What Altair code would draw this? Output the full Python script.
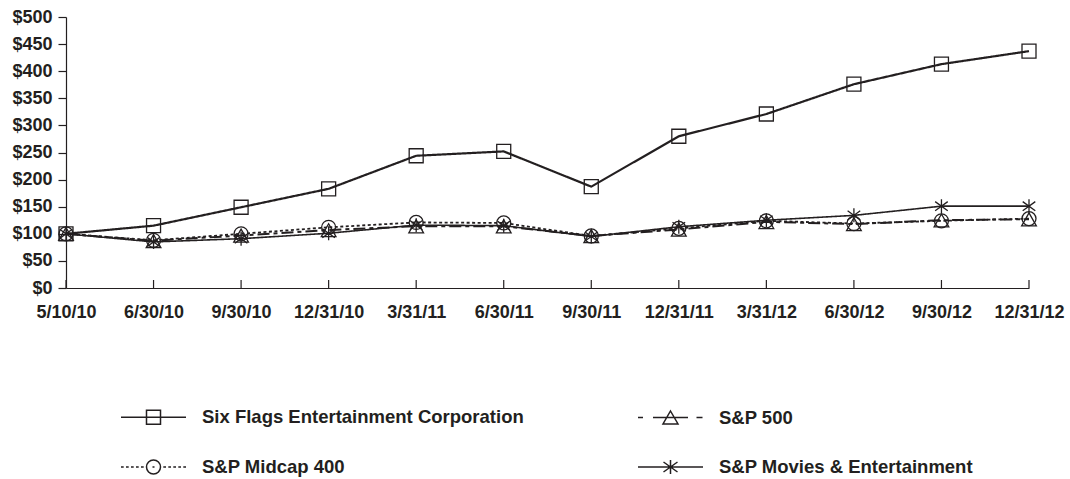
import altair as alt
import pandas as pd

# ---- data ----
dates = ["5/10/10", "6/30/10", "9/30/10", "12/31/10", "3/31/11", "6/30/11",
         "9/30/11", "12/31/11", "3/31/12", "6/30/12", "9/30/12", "12/31/12"]
series_names = ["Six Flags Entertainment Corporation", "S&P 500",
                "S&P Midcap 400", "S&P Movies & Entertainment"]
six_flags = [100, 115, 149, 183, 244, 252, 187, 280, 321, 376, 413, 437]
sp500 = [100, 87, 97, 107, 114, 114, 96, 108, 122, 118, 125, 127]
midcap = [100, 88, 100, 112, 121, 120, 96, 110, 124, 119, 124, 128]
movies = [100, 85, 91, 101, 116, 115, 95, 113, 125, 134, 151, 151]
y_ticks = [0, 50, 100, 150, 200, 250, 300, 350, 400, 450, 500]

rows = []
for name, vals in zip(series_names, [six_flags, sp500, midcap, movies]):
    for d, v in zip(dates, vals):
        rows.append({"date": d, "series": name, "value": v})
df = pd.DataFrame(rows)
tick_df = pd.DataFrame({"date": dates})

INK = "#231f20"
FONT = "Liberation Sans"

# ---- marker shapes (unit paths) ----
m_square = "M-1,-1H1V1H-1Z"
m_tri = "M0,-0.9L1.05,0.95H-1.05Z"
m_circle = "M1,0A1,1 0 1,1 -1,0A1,1 0 1,1 1,0Z"
m_star = "M0,-1V1M-0.9,-0.65L0.9,0.65M-0.9,0.65L0.9,-0.65"

# ---- legend symbols (line + marker), built in pixel units, scaled to unit box ----
S = 32.5
def u(v):
    return f"{v / S:.4f}"

def seg(a, b):
    return f"M{u(a)},0H{u(b)}"

lg_six = seg(-32.5, 32.5) + f"M{u(-7)},{u(-7)}H{u(7)}V{u(7)}H{u(-7)}Z"
lg_sp = (seg(-32.5, -27.5) + seg(-17.5, 17.5) + seg(26, 32)
         + f"M0,{u(-6.5)}L{u(7.5)},{u(6.5)}H{u(-7.5)}Z")
dots = ""
for start in [-32.5, -27.5, -22.5, -17.5, -12.5]:
    dots += seg(start, start + 2.7)
for start in [9.8, 14.8, 19.8, 24.8, 29.8]:
    dots += seg(start, start + 2.7)
lg_mid = (dots + seg(-1, 1)
          + f"M{u(7)},0A{u(7)},{u(7)} 0 1,1 {u(-7)},0A{u(7)},{u(7)} 0 1,1 {u(7)},0Z")
lg_mov = (seg(-32.5, 32.5) + f"M0,{u(-7)}V{u(7)}"
          + f"M{u(-7)},{u(-5)}L{u(7)},{u(5)}M{u(-7)},{u(5)}L{u(7)},{u(-5)}")

W, H = 963, 271

x_enc = alt.X("date:O", sort=dates,
              scale=alt.Scale(type="point", padding=0),
              axis=alt.Axis(title=None, ticks=False, labelAngle=0, labelAlign="center",
                            labelPadding=15, domainColor=INK, domainWidth=1.2))
y_enc = alt.Y("value:Q", scale=alt.Scale(domain=[0, 500], nice=False),
              axis=alt.Axis(title=None, values=y_ticks, grid=False, tickSize=8,
                            labelPadding=6, tickColor=INK, tickWidth=1.2,
                            domainColor=INK, domainWidth=1.2,
                            labelExpr="'$' + datum.value"))

base = alt.Chart(df)

lines = base.mark_line(color=INK).encode(
    x=x_enc, y=y_enc,
    detail="series:N",
    strokeDash=alt.StrokeDash("series:N", legend=None,
                              scale=alt.Scale(domain=series_names,
                                              range=[[1, 0], [12, 4, 4, 4], [3, 2.5], [1, 0]])),
    strokeWidth=alt.StrokeWidth("series:N", legend=None,
                                scale=alt.Scale(domain=series_names,
                                                range=[2.2, 1.6, 1.6, 1.6])),
)

points = base.mark_point(color=INK, filled=False, opacity=1, strokeWidth=1.3, size=196).encode(
    x=x_enc, y=y_enc,
    shape=alt.Shape("series:N", legend=None,
                    scale=alt.Scale(domain=series_names,
                                    range=[m_square, m_tri, m_circle, m_star])),
)

legend_layer = base.transform_filter("false").mark_point(
    color=INK, filled=False, opacity=1, strokeWidth=1.5
).encode(
    x=x_enc, y=y_enc,
    shape=alt.Shape("series:N",
                    scale=alt.Scale(domain=series_names,
                                    range=[lg_six, lg_sp, lg_mid, lg_mov]),
                    legend=alt.Legend(title=None, orient="none", direction="horizontal",
                                      legendX=54, legendY=366.5,
                                      columns=2, columnPadding=111, rowPadding=6,
                                      symbolSize=4225, symbolStrokeWidth=1.5,
                                      symbolStrokeColor=INK, symbolFillColor="transparent",
                                      symbolOpacity=1, labelFont=FONT, labelFontSize=18.5,
                                      labelFontWeight="bold", labelColor=INK,
                                      labelOffset=15, labelLimit=0, padding=0)),
)

xticks = alt.Chart(tick_df).mark_rule(color=INK, strokeWidth=1.2).encode(
    x=x_enc,
    y=alt.value(H), y2=alt.value(H - 8),
)

chart = alt.layer(xticks, lines, points, legend_layer).resolve_scale(
    shape="independent"
).properties(
    width=W, height=H,
    autosize=alt.AutoSizeParams(type="none"),
    padding={"left": 66, "top": 17, "right": 41, "bottom": 191},
).configure_view(stroke=None).configure_axis(
    labelFont=FONT, labelFontSize=18, labelFontWeight="bold", labelColor=INK,
)

chart.save("out.html", embed_options={"renderer": "svg", "actions": False})
